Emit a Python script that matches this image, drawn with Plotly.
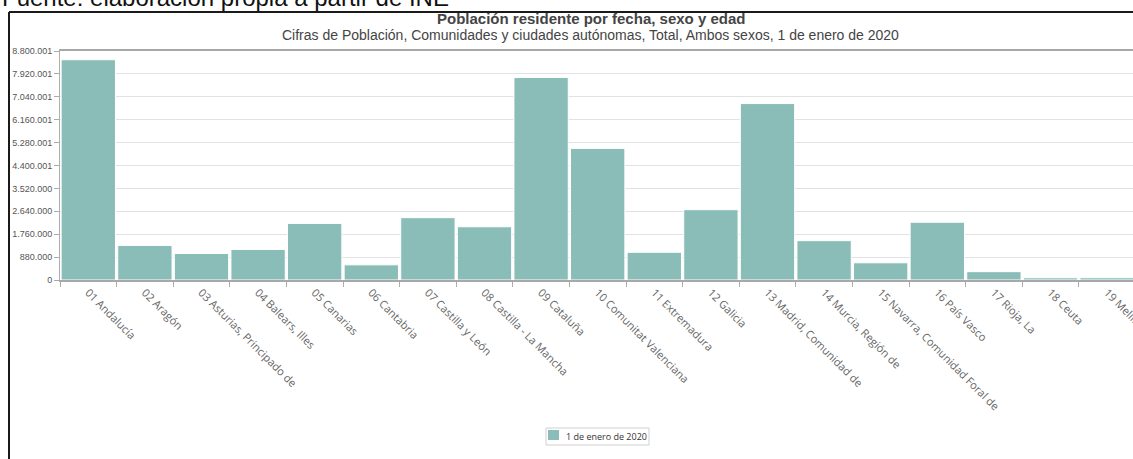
import plotly.graph_objects as go

# Población residente a 1 de enero de 2020 por comunidad / ciudad autónoma
comunidades = [
    "01 Andalucía", "02 Aragón", "03 Asturias, Principado de", "04 Balears, Illes",
    "05 Canarias", "06 Cantabria", "07 Castilla y León", "08 Castilla - La Mancha",
    "09 Cataluña", "10 Comunitat Valenciana", "11 Extremadura", "12 Galicia",
    "13 Madrid, Comunidad de", "14 Murcia, Región de", "15 Navarra, Comunidad Foral de",
    "16 País Vasco", "17 Rioja, La", "18 Ceuta", "19 Melilla",
]
poblacion = [
    8464411, 1329391, 1018784, 1171543, 2175952, 582905, 2394918, 2045221,
    7780479, 5057353, 1063987, 2701819, 6779888, 1511251, 661197, 2220504,
    319914, 84202, 87076,
]
serie = "1 de enero de 2020"

y_ticks = [0, 880000, 1760000, 2640000, 3520000, 4400001, 5280001,
           6160001, 7040001, 7920001, 8800001]
y_ticklabels = ["0", "880.000", "1.760.000", "2.640.000", "3.520.000", "4.400.001",
                "5.280.001", "6.160.001", "7.040.001", "7.920.001", "8.800.001"]

titulo = "Población residente por fecha, sexo y edad"
subtitulo = "Cifras de Población, Comunidades y ciudades autónomas, Total, Ambos sexos, 1 de enero de 2020"
fuente = "Fuente: elaboración propia a partir de INE"

BAR_COLOR = "#8bbdb8"

W, H = 1133, 459
ML, MR, MT, MB = 60, 0, 51, 179
PW, PH = W - ML - MR, H - MT - MB


def px_x(p):
    return (p - ML) / PW


def px_y(p):
    return 1 + (MT - p) / PH


fig = go.Figure(
    go.Bar(
        x=comunidades,
        y=poblacion,
        name=serie,
        marker=dict(color=BAR_COLOR, line=dict(color="#ffffff", width=1)),
        showlegend=False,
    )
)

fig.update_layout(
    width=W,
    height=H,
    margin=dict(l=ML, r=MR, t=MT, b=MB, autoexpand=False),
    paper_bgcolor="white",
    plot_bgcolor="white",
    bargap=0.04,
    font=dict(family="Open Sans", color="#666666"),
    xaxis=dict(
        type="category",
        automargin=False,
        range=[-0.5, -0.5 + PW / 56.6],
        tickangle=45,
        tickson="boundaries",
        ticks="outside",
        ticklen=5,
        tickcolor="#aaaaaa",
        tickfont=dict(family="Open Sans", size=11, color="#666666"),
        showline=True,
        linecolor="#a8a8a8",
        linewidth=2,
        mirror=True,
        showgrid=False,
    ),
    yaxis=dict(
        automargin=False,
        range=[0, 8800001],
        tickvals=y_ticks,
        ticktext=y_ticklabels,
        ticks="outside",
        ticklen=5,
        tickcolor="#aaaaaa",
        tickfont=dict(family="Liberation Sans", size=9, color="#555555"),
        showline=True,
        linecolor="#b0b0b0",
        linewidth=1,
        showgrid=True,
        gridcolor="#e2e2e2",
        gridwidth=1,
        zeroline=False,
    ),
    annotations=[
        dict(text=fuente, xref="paper", yref="paper", x=px_x(0), y=px_y(-3),
             xanchor="left", yanchor="middle", showarrow=False,
             font=dict(family="Liberation Sans", size=24, color="#111111")),
        dict(text="<b>" + titulo + "</b>", xref="paper", yref="paper",
             x=px_x(591), y=px_y(18), xanchor="center", yanchor="middle",
             showarrow=False,
             font=dict(family="Liberation Sans", size=15, color="#444444")),
        dict(text=subtitulo, xref="paper", yref="paper",
             x=px_x(590), y=px_y(35), xanchor="center", yanchor="middle",
             showarrow=False,
             font=dict(family="Liberation Sans", size=14, color="#444444")),
        # legend entry
        dict(text=serie, xref="paper", yref="paper",
             x=px_x(564), y=px_y(436), xanchor="left", yanchor="middle",
             showarrow=False,
             font=dict(family="Open Sans", size=9, color="#333333")),
    ],
    shapes=[
        dict(type="line", xref="paper", yref="paper",
             x0=px_x(9), x1=px_x(W + 2), y0=px_y(12), y1=px_y(12),
             line=dict(color="#1a1a1a", width=2)),
        dict(type="line", xref="paper", yref="paper",
             x0=px_x(9), x1=px_x(9), y0=px_y(12), y1=px_y(H + 2),
             line=dict(color="#1a1a1a", width=2)),
        # legend frame and swatch
        dict(type="rect", xref="paper", yref="paper",
             x0=px_x(546), x1=px_x(649), y0=px_y(428), y1=px_y(445),
             line=dict(color="#d0d0d0", width=1), fillcolor="white"),
        dict(type="rect", xref="paper", yref="paper",
             x0=px_x(548), x1=px_x(559), y0=px_y(430), y1=px_y(440),
             line=dict(width=0), fillcolor=BAR_COLOR),
    ],
)

fig.write_html("out.html")
